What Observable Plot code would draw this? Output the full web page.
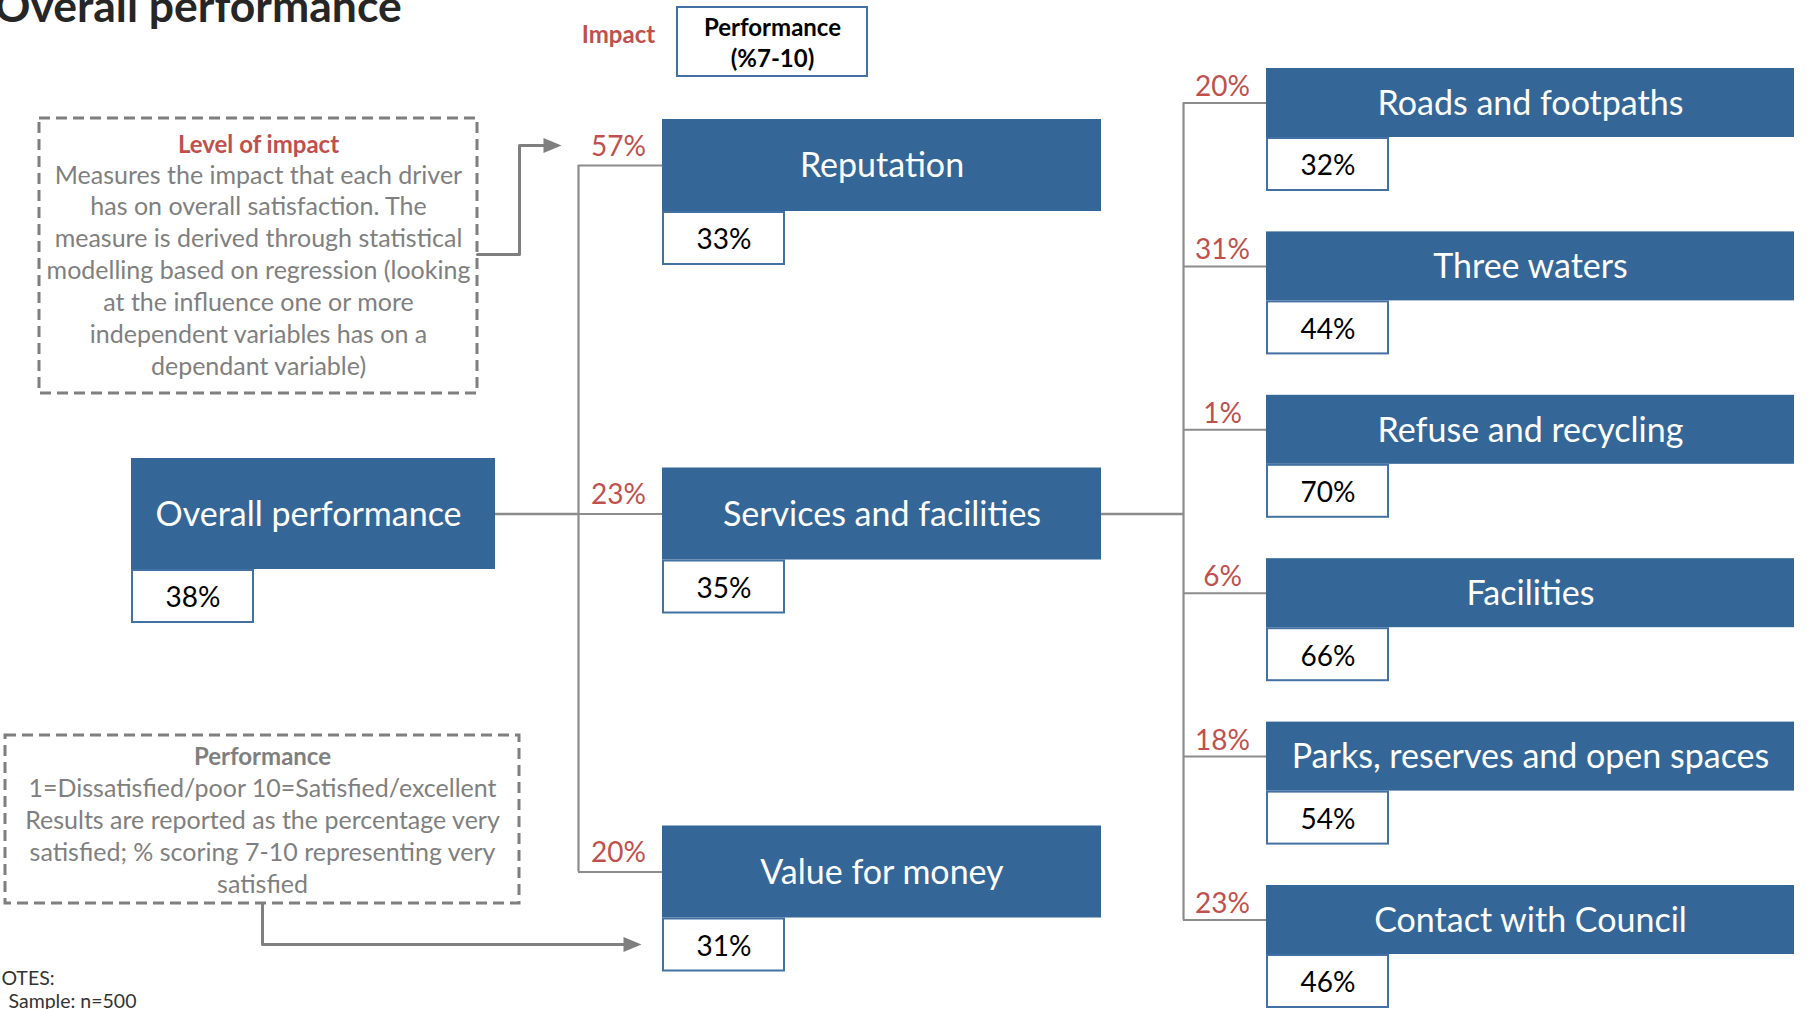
<!DOCTYPE html>
<html><head><meta charset="utf-8">
<script src="https://cdn.jsdelivr.net/npm/d3@7"></script>
<script src="https://cdn.jsdelivr.net/npm/@observablehq/plot@0.6"></script>
<style>html,body{margin:0;padding:0;background:#fff;overflow:hidden;} svg{display:block;}</style>
</head><body><div id="chart"></div>
<script>
// ---------------- data ----------------
const titleText = "Overall performance";
const rootName = "Overall performance";
const rootPerformance = 38;
const drivers = ["Reputation", "Services and facilities", "Value for money"];
const driverImpact = [57, 23, 20];
const driverPerformance = [33, 35, 31];
const expandedDriver = "Services and facilities";
const subDrivers = ["Roads and footpaths", "Three waters", "Refuse and recycling", "Facilities", "Parks, reserves and open spaces", "Contact with Council"];
const subImpact = [20, 31, 1, 6, 18, 23];
const subPerformance = [32, 44, 70, 66, 54, 46];
const legendImpact = "Impact";
const legendPerformance = ["Performance", "(%7-10)"];
const impactNoteTitle = "Level of impact";
const impactNoteLines = ["Measures the impact that each driver", "has on overall satisfaction. The", "measure is derived through statistical", "modelling based on regression (looking", "at the influence one or more", "independent variables has on a", "dependant variable)"];
const perfNoteTitle = "Performance";
const perfNoteLines = ["1=Dissatisfied/poor 10=Satisfied/excellent", "Results are reported as the percentage very", "satisfied; % scoring 7-10 representing very", "satisfied"];
const notesLines = ["NOTES:", "Sample: n=500"];

// ---------------- layout & style ----------------
const W = 1807, H = 1009;
const FONT = "Lato";
const BLUE = "#346798", BOX_STROKE = "#4471a3", RED = "#c0504d", GREY = "#7f7f7f", LINE = "#8c8c8c";
const LAY = {
  root: {x1: 131, x2: 495, cy: 513.5, h: 111},
  drv: {x1: 662, x2: 1101, stepUp: 348.5, stepDown: 358, h: 92},
  sub: {x1: 1266, x2: 1794, cy0: 102.5, step: 163.4, h: 69},
  pct: {w: 121, h: 52},
  trunk1: 578, trunk2: 1183, impact1: 618, impact2: 1222,
  impactNote: {x1: 39, x2: 477, y1: 118, y2: 393, title: 152, first: 183, lh: 31.9},
  perfNote: {x1: 5, x2: 519, y1: 735, y2: 903, title: 764, first: 796, lh: 32},
  legendBox: {x1: 677, x2: 867, y1: 7, y2: 76}
};
const fmt = v => v + "%";

const nodes = [];
nodes.push({name: rootName, perf: rootPerformance, x1: LAY.root.x1, x2: LAY.root.x2, cy: LAY.root.cy, h: LAY.root.h, dx: -5});
drivers.forEach((d, i) => nodes.push({name: d, perf: driverPerformance[i], impact: driverImpact[i], level: 1, dx: 0,
  x1: LAY.drv.x1, x2: LAY.drv.x2, cy: LAY.root.cy + (i - 1) * (i < 1 ? LAY.drv.stepUp : LAY.drv.stepDown), h: LAY.drv.h}));
subDrivers.forEach((d, i) => nodes.push({name: d, perf: subPerformance[i], impact: subImpact[i], level: 2, dx: 0,
  x1: LAY.sub.x1, x2: LAY.sub.x2, cy: LAY.sub.cy0 + i * LAY.sub.step, h: LAY.sub.h}));
nodes.forEach(n => { n.y1 = n.cy - n.h / 2; n.y2 = n.cy + n.h / 2; });
const lvl1 = nodes.filter(n => n.level === 1), lvl2 = nodes.filter(n => n.level === 2);
const expanded = lvl1.find(n => n.name === expandedDriver);

// connectors
const hRules = [
  {y: LAY.root.cy, x1: LAY.root.x2, x2: LAY.trunk1, w: 2.6},
  ...lvl1.map(n => ({y: n.cy, x1: LAY.trunk1, x2: n.x1, w: 2})),
  {y: expanded.cy, x1: expanded.x2, x2: LAY.trunk2, w: 2.6},
  ...lvl2.map(n => ({y: n.cy, x1: LAY.trunk2, x2: n.x1, w: 2}))
];
const vRules = [
  {x: LAY.trunk1, y1: lvl1[0].cy, y2: lvl1[lvl1.length - 1].cy},
  {x: LAY.trunk2, y1: lvl2[0].cy, y2: lvl2[lvl2.length - 1].cy}
];

// note texts
function noteText(box, title, lines) {
  const cx = (box.x1 + box.x2) / 2;
  return {cx, title: {x: cx, y: box.title, t: title},
    lines: lines.map((t, i) => ({x: cx, y: box.first + i * box.lh, t}))};
}
const iN = noteText(LAY.impactNote, impactNoteTitle, impactNoteLines);
const pN = noteText(LAY.perfNote, perfNoteTitle, perfNoteLines);

// arrows (elbow paths)
const HEAD = 18;
const arrowA = {tip: [561, 145], path: [[LAY.impactNote.x2, 254], [519, 254], [519, 145]]};
const arrowB = {tip: [641, 944], path: [[pN.cx, LAY.perfNote.y2], [pN.cx, 944]]};
const arrowPts = [arrowA, arrowB].flatMap((a, k) =>
  [...a.path, [a.tip[0] - HEAD + 4, a.tip[1]]].map(([x, y]) => ({k, x, y})));
const heads = [arrowA, arrowB].map(a => ({x: a.tip[0] - HEAD / 2, y: a.tip[1]}));
const arrowHead = {draw(ctx, size) { const l = Math.sqrt(size); ctx.moveTo(l / 2, 0); ctx.lineTo(-l / 2, -l * 0.42); ctx.lineTo(-l / 2, l * 0.42); ctx.closePath(); }};

const chart = Plot.plot({
  width: W, height: H, margin: 0,
  x: {domain: [0, W], range: [0, W], axis: null},
  y: {domain: [0, H], range: [0, H], axis: null},
  style: {fontFamily: FONT, background: "#fff", overflow: "visible"},
  marks: [
    // connectors
    Plot.ruleY(hRules, {y: "y", x1: "x1", x2: "x2", stroke: LINE, strokeWidth: "w"}),
    Plot.ruleX(vRules, {x: "x", y1: "y1", y2: "y2", stroke: LINE, strokeWidth: 2.2}),
    // main boxes
    Plot.rect(nodes, {x1: "x1", x2: "x2", y1: "y1", y2: "y2", fill: BLUE}),
    Plot.text(nodes, {x: d => (d.x1 + d.x2) / 2 + d.dx, y: "cy", text: "name", fill: "white", fontSize: 34, lineAnchor: "middle", dy: 1}),
    // performance boxes
    Plot.rect(nodes, {x1: d => d.x1 + 1, x2: d => d.x1 + 1 + LAY.pct.w, y1: d => d.y2 + 1, y2: d => d.y2 + 1 + LAY.pct.h, fill: "white", stroke: BOX_STROKE, strokeWidth: 2}),
    Plot.text(nodes, {x: d => d.x1 + 1 + LAY.pct.w / 2, y: d => d.y2 + 1 + LAY.pct.h / 2, text: d => fmt(d.perf), fill: "#000", fontSize: 28, lineAnchor: "middle", dy: 2}),
    // impact labels
    Plot.text(lvl1, {x: LAY.impact1, y: d => d.cy - 10, text: d => fmt(d.impact), fill: RED, fontSize: 28, lineAnchor: "bottom"}),
    Plot.text(lvl2, {x: LAY.impact2, y: d => d.cy - 7, text: d => fmt(d.impact), fill: RED, fontSize: 28, lineAnchor: "bottom"}),
    // legend
    Plot.text([legendImpact], {x: LAY.impact1, y: 42, text: d => d, fill: RED, fontSize: 24, fontWeight: "bold", lineAnchor: "bottom"}),
    Plot.rect([LAY.legendBox], {x1: "x1", x2: "x2", y1: "y1", y2: "y2", fill: "white", stroke: BOX_STROKE, strokeWidth: 2}),
    Plot.text(legendPerformance, {x: (LAY.legendBox.x1 + LAY.legendBox.x2) / 2, y: (d, i) => 35 + i * 31, text: d => d, fill: "#000", fontSize: 24, fontWeight: "bold", lineAnchor: "bottom"}),
    // dashed notes
    Plot.rect([LAY.impactNote, LAY.perfNote], {x1: "x1", x2: "x2", y1: "y1", y2: "y2", fill: "none", stroke: GREY, strokeWidth: 3, strokeDasharray: "11,6"}),
    Plot.text([iN.title], {x: "x", y: "y", text: "t", fill: RED, fontSize: 24, fontWeight: "bold", lineAnchor: "bottom"}),
    Plot.text(iN.lines, {x: "x", y: "y", text: "t", fill: GREY, fontSize: 25, lineAnchor: "bottom"}),
    Plot.text([pN.title], {x: "x", y: "y", text: "t", fill: GREY, fontSize: 24, fontWeight: "bold", lineAnchor: "bottom"}),
    Plot.text(pN.lines, {x: "x", y: "y", text: "t", fill: GREY, fontSize: 25, lineAnchor: "bottom"}),
    // arrows
    Plot.line(arrowPts, {x: "x", y: "y", z: "k", stroke: GREY, strokeWidth: 3, curve: "linear"}),
    Plot.dot(heads, {x: "x", y: "y", symbol: arrowHead, r: HEAD / Math.sqrt(Math.PI), fill: GREY, stroke: "none"}),
    // title & notes
    Plot.text([titleText], {x: -6, y: 21, text: d => d, fill: "#262626", fontSize: 44.5, fontWeight: "bold", textAnchor: "start", lineAnchor: "bottom"}),
    Plot.text(notesLines, {x: (d, i) => i ? 8 : -14, y: (d, i) => 984 + i * 23, text: d => d, fill: "#333", fontSize: 19.5, textAnchor: "start", lineAnchor: "bottom"})
  ]
});
document.getElementById("chart").appendChild(chart);
</script>
</body></html>
